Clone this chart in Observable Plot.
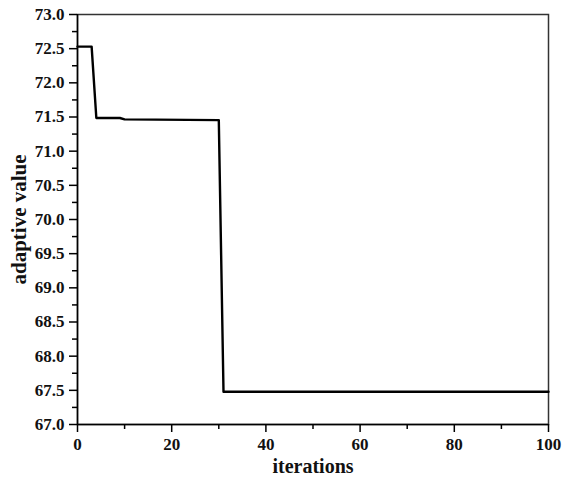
<!DOCTYPE html>
<html>
<head>
<meta charset="utf-8">
<script src="https://cdn.jsdelivr.net/npm/d3@7"></script>
<script src="https://cdn.jsdelivr.net/npm/@observablehq/plot@0.6"></script>
<style>
  html, body { margin: 0; padding: 0; background: #fff; overflow: hidden; }
  #chart svg { display: block; }
</style>
</head>
<body>
<div id="chart"></div>
<script>
// Breakpoints of the curve
const iterations = [0, 3, 4, 9, 10, 30, 31, 100];
const adaptiveValue = [72.53, 72.53, 71.485, 71.485, 71.465, 71.455, 67.48, 67.48];

const xMajorTicks = [0, 20, 40, 60, 80, 100];
const xMinorTicks = [10, 30, 50, 70, 90];
const yMajorTicks = [67.0, 67.5, 68.0, 68.5, 69.0, 69.5, 70.0, 70.5, 71.0, 71.5, 72.0, 72.5, 73.0];
const yMinorTicks = [67.25, 67.75, 68.25, 68.75, 69.25, 69.75, 70.25, 70.75, 71.25, 71.75, 72.25, 72.75];

const xTitle = "iterations";
const yTitle = "adaptive value";

const data = iterations.map((x, i) => ({x, y: adaptiveValue[i]}));

const serif = "Liberation Serif";

const chart = Plot.plot({
  width: 562,
  height: 477,
  marginLeft: 77,
  marginRight: 14,
  marginTop: 14,
  marginBottom: 53,
  style: {color: "#111", background: "#fff", fontFamily: serif, fontWeight: "bold"},
  x: {domain: [0, 100]},
  y: {domain: [67, 73]},
  marks: [
    Plot.frame({stroke: "#333", strokeWidth: 1.5}),
    Plot.line(data, {x: "x", y: "y", stroke: "#000", strokeWidth: 2.4}),
    Plot.axisX(xMajorTicks, {tickSize: 8, tickPadding: 5, fontSize: 17, fontFamily: serif, fontWeight: "bold", label: null, stroke: "#000", strokeWidth: 1.5}),
    Plot.axisX(xMinorTicks, {tickSize: 5, text: null, label: null, stroke: "#000", strokeWidth: 1.5}),
    Plot.axisY(yMajorTicks, {tickSize: 8, tickPadding: 5, fontSize: 17, fontFamily: serif, fontWeight: "bold", tickFormat: d3.format(".1f"), label: null, stroke: "#000", strokeWidth: 1.5}),
    Plot.axisY(yMinorTicks, {tickSize: 5, text: null, label: null, stroke: "#000", strokeWidth: 1.5}),
    Plot.ruleX([0], {stroke: "#000", strokeWidth: 1.5}),
    Plot.ruleY([67], {stroke: "#000", strokeWidth: 1.5}),
    Plot.text([xTitle], {frameAnchor: "bottom", textAnchor: "middle", lineAnchor: "middle", dy: 42, fontSize: 20, fontFamily: serif, fontWeight: "bold", fill: "#111"}),
    Plot.text([yTitle], {frameAnchor: "left", textAnchor: "middle", lineAnchor: "middle", dx: -58, rotate: -90, fontSize: 21, fontFamily: serif, fontWeight: "bold", fill: "#111"})
  ]
});
document.getElementById("chart").appendChild(chart);
</script>
</body>
</html>
